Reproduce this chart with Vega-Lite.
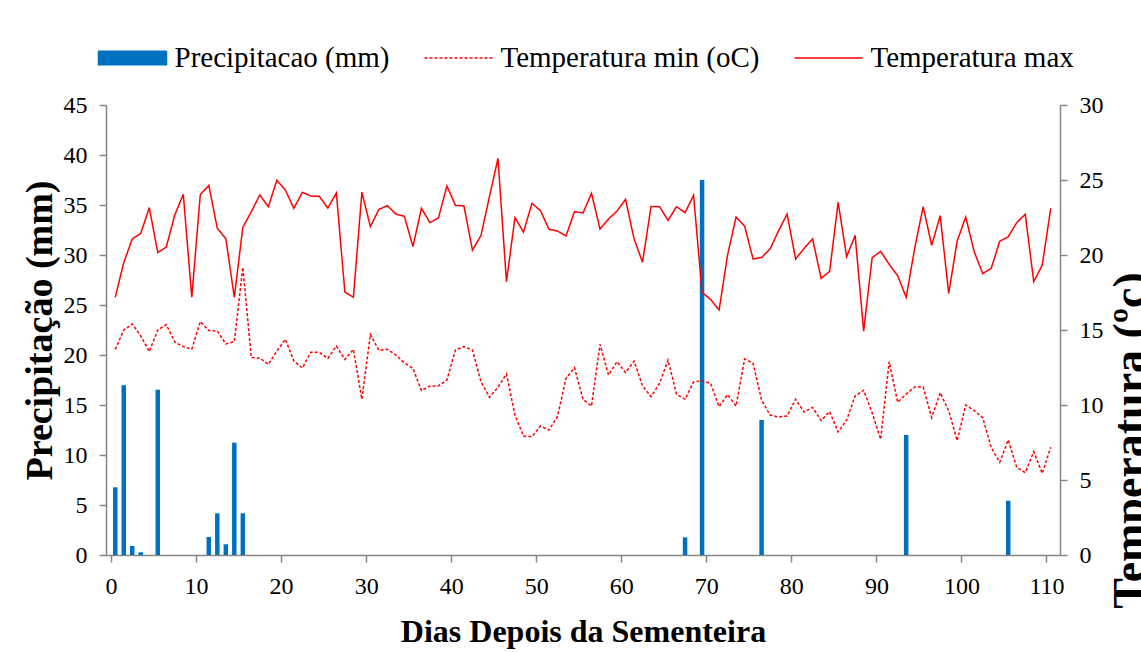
{
  "$schema": "https://vega.github.io/schema/vega-lite/v6.json",
  "width": 954,
  "height": 450,
  "autosize": {"type": "none"},
  "padding": {"left": 106, "top": 105, "right": 81, "bottom": 97},
  "background": "white",
  "config": {
    "view": {"stroke": null},
    "axis": {
      "grid": false,
      "domainColor": "#868686",
      "tickColor": "#868686",
      "domainWidth": 1.5,
      "tickWidth": 1.5,
      "tickSize": 7,
      "labelFont": "Liberation Serif",
      "labelFontSize": 24,
      "labelColor": "black",
      "titleFont": "Liberation Serif",
      "titleFontWeight": "bold",
      "titleColor": "black"
    }
  },
  "datasets": {
    "precip": [
      {"d": 0.5, "p": 6.77}, {"d": 1.5, "p": 16.97}, {"d": 2.5, "p": 0.9}, {"d": 3.5, "p": 0.27},
      {"d": 5.5, "p": 16.53}, {"d": 11.5, "p": 1.8}, {"d": 12.5, "p": 4.17}, {"d": 13.5, "p": 1.07},
      {"d": 14.5, "p": 11.23}, {"d": 15.5, "p": 4.17}, {"d": 67.5, "p": 1.77}, {"d": 69.5, "p": 37.5},
      {"d": 76.5, "p": 13.5}, {"d": 93.5, "p": 12.0}, {"d": 105.5, "p": 5.43}
    ],
    "temp": [
      {"d": 0.5, "Temperatura min (oC)": 13.71, "Temperatura max": 17.18}, {"d": 1.5, "Temperatura min (oC)": 15.0, "Temperatura max": 19.49}, {"d": 2.5, "Temperatura min (oC)": 15.4, "Temperatura max": 21.07},
      {"d": 3.5, "Temperatura min (oC)": 14.6, "Temperatura max": 21.44}, {"d": 4.5, "Temperatura min (oC)": 13.56, "Temperatura max": 23.16}, {"d": 5.5, "Temperatura min (oC)": 15.0, "Temperatura max": 20.16},
      {"d": 6.5, "Temperatura min (oC)": 15.36, "Temperatura max": 20.53}, {"d": 7.5, "Temperatura min (oC)": 14.2, "Temperatura max": 22.67}, {"d": 8.5, "Temperatura min (oC)": 13.89, "Temperatura max": 24.04},
      {"d": 9.5, "Temperatura min (oC)": 13.73, "Temperatura max": 17.18}, {"d": 10.5, "Temperatura min (oC)": 15.56, "Temperatura max": 24.02}, {"d": 11.5, "Temperatura min (oC)": 14.96, "Temperatura max": 24.64},
      {"d": 12.5, "Temperatura min (oC)": 14.93, "Temperatura max": 21.78}, {"d": 13.5, "Temperatura min (oC)": 14.07, "Temperatura max": 21.09}, {"d": 14.5, "Temperatura min (oC)": 14.22, "Temperatura max": 17.18},
      {"d": 15.5, "Temperatura min (oC)": 19.18, "Temperatura max": 21.84}, {"d": 16.5, "Temperatura min (oC)": 13.16, "Temperatura max": 22.89}, {"d": 17.5, "Temperatura min (oC)": 13.13, "Temperatura max": 24.0},
      {"d": 18.5, "Temperatura min (oC)": 12.71, "Temperatura max": 23.22}, {"d": 19.5, "Temperatura min (oC)": 13.6, "Temperatura max": 24.98}, {"d": 20.5, "Temperatura min (oC)": 14.38, "Temperatura max": 24.33},
      {"d": 21.5, "Temperatura min (oC)": 12.93, "Temperatura max": 23.11}, {"d": 22.5, "Temperatura min (oC)": 12.47, "Temperatura max": 24.18}, {"d": 23.5, "Temperatura min (oC)": 13.51, "Temperatura max": 23.93},
      {"d": 24.5, "Temperatura min (oC)": 13.51, "Temperatura max": 23.91}, {"d": 25.5, "Temperatura min (oC)": 13.11, "Temperatura max": 23.13}, {"d": 26.5, "Temperatura min (oC)": 13.93, "Temperatura max": 24.13},
      {"d": 27.5, "Temperatura min (oC)": 13.04, "Temperatura max": 17.53}, {"d": 28.5, "Temperatura min (oC)": 13.71, "Temperatura max": 17.18}, {"d": 29.5, "Temperatura min (oC)": 10.38, "Temperatura max": 24.18},
      {"d": 30.5, "Temperatura min (oC)": 14.71, "Temperatura max": 21.89}, {"d": 31.5, "Temperatura min (oC)": 13.64, "Temperatura max": 23.04}, {"d": 32.5, "Temperatura min (oC)": 13.71, "Temperatura max": 23.29},
      {"d": 33.5, "Temperatura min (oC)": 13.33, "Temperatura max": 22.73}, {"d": 34.5, "Temperatura min (oC)": 12.8, "Temperatura max": 22.58}, {"d": 35.5, "Temperatura min (oC)": 12.45, "Temperatura max": 20.56},
      {"d": 36.5, "Temperatura min (oC)": 10.96, "Temperatura max": 23.11}, {"d": 37.5, "Temperatura min (oC)": 11.27, "Temperatura max": 22.16}, {"d": 38.5, "Temperatura min (oC)": 11.27, "Temperatura max": 22.47},
      {"d": 39.5, "Temperatura min (oC)": 11.67, "Temperatura max": 24.6}, {"d": 40.5, "Temperatura min (oC)": 13.67, "Temperatura max": 23.31}, {"d": 41.5, "Temperatura min (oC)": 13.89, "Temperatura max": 23.27},
      {"d": 42.5, "Temperatura min (oC)": 13.67, "Temperatura max": 20.33}, {"d": 43.5, "Temperatura min (oC)": 11.56, "Temperatura max": 21.29}, {"d": 44.5, "Temperatura min (oC)": 10.51, "Temperatura max": 23.89},
      {"d": 45.5, "Temperatura min (oC)": 11.18, "Temperatura max": 26.44}, {"d": 46.5, "Temperatura min (oC)": 12.07, "Temperatura max": 18.22}, {"d": 47.5, "Temperatura min (oC)": 9.33, "Temperatura max": 22.49},
      {"d": 48.5, "Temperatura min (oC)": 7.93, "Temperatura max": 21.53}, {"d": 49.5, "Temperatura min (oC)": 7.89, "Temperatura max": 23.44}, {"d": 50.5, "Temperatura min (oC)": 8.6, "Temperatura max": 22.96},
      {"d": 51.5, "Temperatura min (oC)": 8.33, "Temperatura max": 21.71}, {"d": 52.5, "Temperatura min (oC)": 9.22, "Temperatura max": 21.6}, {"d": 53.5, "Temperatura min (oC)": 11.78, "Temperatura max": 21.27},
      {"d": 54.5, "Temperatura min (oC)": 12.49, "Temperatura max": 22.89}, {"d": 55.5, "Temperatura min (oC)": 10.38, "Temperatura max": 22.8}, {"d": 56.5, "Temperatura min (oC)": 9.93, "Temperatura max": 24.11},
      {"d": 57.5, "Temperatura min (oC)": 14.04, "Temperatura max": 21.73}, {"d": 58.5, "Temperatura min (oC)": 12.0, "Temperatura max": 22.4}, {"d": 59.5, "Temperatura min (oC)": 12.89, "Temperatura max": 22.93},
      {"d": 60.5, "Temperatura min (oC)": 12.16, "Temperatura max": 23.71}, {"d": 61.5, "Temperatura min (oC)": 12.93, "Temperatura max": 21.09}, {"d": 62.5, "Temperatura min (oC)": 11.27, "Temperatura max": 19.51},
      {"d": 63.5, "Temperatura min (oC)": 10.56, "Temperatura max": 23.24}, {"d": 64.5, "Temperatura min (oC)": 11.44, "Temperatura max": 23.22}, {"d": 65.5, "Temperatura min (oC)": 13.0, "Temperatura max": 22.31},
      {"d": 66.5, "Temperatura min (oC)": 10.71, "Temperatura max": 23.22}, {"d": 67.5, "Temperatura min (oC)": 10.38, "Temperatura max": 22.82}, {"d": 68.5, "Temperatura min (oC)": 11.53, "Temperatura max": 23.98},
      {"d": 69.5, "Temperatura min (oC)": 11.62, "Temperatura max": 17.51}, {"d": 70.5, "Temperatura min (oC)": 11.44, "Temperatura max": 17.04}, {"d": 71.5, "Temperatura min (oC)": 9.89, "Temperatura max": 16.33},
      {"d": 72.5, "Temperatura min (oC)": 10.69, "Temperatura max": 20.0}, {"d": 73.5, "Temperatura min (oC)": 9.93, "Temperatura max": 22.53}, {"d": 74.5, "Temperatura min (oC)": 13.07, "Temperatura max": 21.93},
      {"d": 75.5, "Temperatura min (oC)": 12.78, "Temperatura max": 19.73}, {"d": 76.5, "Temperatura min (oC)": 10.33, "Temperatura max": 19.84}, {"d": 77.5, "Temperatura min (oC)": 9.33, "Temperatura max": 20.4},
      {"d": 78.5, "Temperatura min (oC)": 9.2, "Temperatura max": 21.62}, {"d": 79.5, "Temperatura min (oC)": 9.27, "Temperatura max": 22.73}, {"d": 80.5, "Temperatura min (oC)": 10.38, "Temperatura max": 19.73},
      {"d": 81.5, "Temperatura min (oC)": 9.53, "Temperatura max": 20.44}, {"d": 82.5, "Temperatura min (oC)": 9.84, "Temperatura max": 21.07}, {"d": 83.5, "Temperatura min (oC)": 8.96, "Temperatura max": 18.44},
      {"d": 84.5, "Temperatura min (oC)": 9.56, "Temperatura max": 18.91}, {"d": 85.5, "Temperatura min (oC)": 8.2, "Temperatura max": 23.51}, {"d": 86.5, "Temperatura min (oC)": 9.0, "Temperatura max": 19.89},
      {"d": 87.5, "Temperatura min (oC)": 10.6, "Temperatura max": 21.31}, {"d": 88.5, "Temperatura min (oC)": 10.98, "Temperatura max": 14.93}, {"d": 89.5, "Temperatura min (oC)": 9.49, "Temperatura max": 19.82},
      {"d": 90.5, "Temperatura min (oC)": 7.71, "Temperatura max": 20.24}, {"d": 91.5, "Temperatura min (oC)": 12.89, "Temperatura max": 19.38}, {"d": 92.5, "Temperatura min (oC)": 10.18, "Temperatura max": 18.62},
      {"d": 93.5, "Temperatura min (oC)": 10.73, "Temperatura max": 17.18}, {"d": 94.5, "Temperatura min (oC)": 11.2, "Temperatura max": 20.44}, {"d": 95.5, "Temperatura min (oC)": 11.2, "Temperatura max": 23.22},
      {"d": 96.5, "Temperatura min (oC)": 9.16, "Temperatura max": 20.64}, {"d": 97.5, "Temperatura min (oC)": 10.82, "Temperatura max": 22.62}, {"d": 98.5, "Temperatura min (oC)": 9.62, "Temperatura max": 17.44},
      {"d": 99.5, "Temperatura min (oC)": 7.62, "Temperatura max": 20.93}, {"d": 100.5, "Temperatura min (oC)": 10.0, "Temperatura max": 22.53}, {"d": 101.5, "Temperatura min (oC)": 9.62, "Temperatura max": 20.22},
      {"d": 102.5, "Temperatura min (oC)": 9.16, "Temperatura max": 18.76}, {"d": 103.5, "Temperatura min (oC)": 7.16, "Temperatura max": 19.11}, {"d": 104.5, "Temperatura min (oC)": 6.18, "Temperatura max": 20.91},
      {"d": 105.5, "Temperatura min (oC)": 7.67, "Temperatura max": 21.22}, {"d": 106.5, "Temperatura min (oC)": 5.84, "Temperatura max": 22.16}, {"d": 107.5, "Temperatura min (oC)": 5.49, "Temperatura max": 22.71},
      {"d": 108.5, "Temperatura min (oC)": 6.89, "Temperatura max": 18.22}, {"d": 109.5, "Temperatura min (oC)": 5.44, "Temperatura max": 19.33}, {"d": 110.5, "Temperatura min (oC)": 7.18, "Temperatura max": 23.11}
    ]
  },
  "layer": [
    {
      "data": {"name": "precip"},
      "mark": {"type": "bar", "size": 4.5},
      "encoding": {
        "x": {
          "field": "d", "type": "quantitative",
          "scale": {"domain": [0, 111], "nice": false, "zero": false},
          "axis": {
            "values": [0, 10, 20, 30, 40, 50, 60, 70, 80, 90, 100, 110],
            "labelPadding": 12,
            "title": "Dias Depois da Sementeira",
            "titleFontSize": 32,
            "titleY": 86,
            "titleBaseline": "alphabetic"
          }
        },
        "y": {
          "field": "p", "type": "quantitative",
          "scale": {"domain": [0, 45], "nice": false},
          "axis": {
            "orient": "left",
            "values": [0, 5, 10, 15, 20, 25, 30, 35, 40, 45],
            "labelPadding": 12,
            "title": "Precipitação (mm)",
            "titleFontSize": 38,
            "titleAngle": 270,
            "titleAlign": "center",
            "titleBaseline": "alphabetic",
            "titleX": -55,
            "titleY": 225
          }
        },
        "color": {
          "datum": "Precipitacao (mm)", "type": "nominal",
          "title": null,
          "scale": {
            "domain": ["Precipitacao (mm)", "Temperatura min (oC)", "Temperatura max"],
            "range": ["#0070C0", "#FF0000", "#FF0000"]
          },
          "legend": {
            "orient": "none",
            "legendX": -8.5,
            "legendY": -82,
            "direction": "horizontal",
            "columns": 3,
            "title": null,
            "padding": 0,
            "symbolSize": 4624,
            "symbolStrokeWidth": 1.5,
            "labelFont": "Liberation Serif",
            "labelFontSize": 29,
            "labelColor": "black",
            "labelOffset": 7,
            "labelLimit": 0,
            "columnPadding": 32,
            "encode": {
              "symbols": {
                "update": {
                  "shape": {"signal": "datum.value === 'Precipitacao (mm)' ? 'M-1,-0.2H1V0.2H-1Z' : 'stroke'"},
                  "fill": {"signal": "datum.value === 'Precipitacao (mm)' ? '#0070C0' : 'transparent'"},
                  "stroke": {"signal": "datum.value === 'Precipitacao (mm)' ? 'transparent' : '#FF0000'"},
                  "strokeDash": {"signal": "datum.value === 'Temperatura min (oC)' ? [3, 2] : [1, 0]"},
                  "strokeWidth": {"value": 1.5},
                  "opacity": {"value": 1}
                }
              }
            }
          }
        }
      }
    },
    {
      "data": {"name": "temp"},
      "transform": [{"fold": ["Temperatura min (oC)", "Temperatura max"], "as": ["k", "t"]}],
      "mark": {"type": "line", "strokeWidth": 1.5},
      "encoding": {
        "x": {"field": "d", "type": "quantitative"},
        "y": {
          "field": "t", "type": "quantitative",
          "scale": {"domain": [0, 30], "nice": false},
          "axis": {
            "orient": "right",
            "values": [0, 5, 10, 15, 20, 25, 30],
            "labelPadding": 12,
            "title": "Temperatura (ºc)",
            "titleFontSize": 46,
            "titleAngle": 270,
            "titleAlign": "center",
            "titleBaseline": "alphabetic",
            "titleX": 84,
            "titleY": 335
          }
        },
        "color": {"field": "k", "type": "nominal", "title": null},
        "strokeDash": {
          "field": "k", "type": "nominal", "title": null,
          "scale": {"domain": ["Temperatura min (oC)", "Temperatura max"], "range": [[3, 2], [1, 0]]},
          "legend": null
        }
      }
    }
  ],
  "resolve": {"scale": {"y": "independent"}}
}
